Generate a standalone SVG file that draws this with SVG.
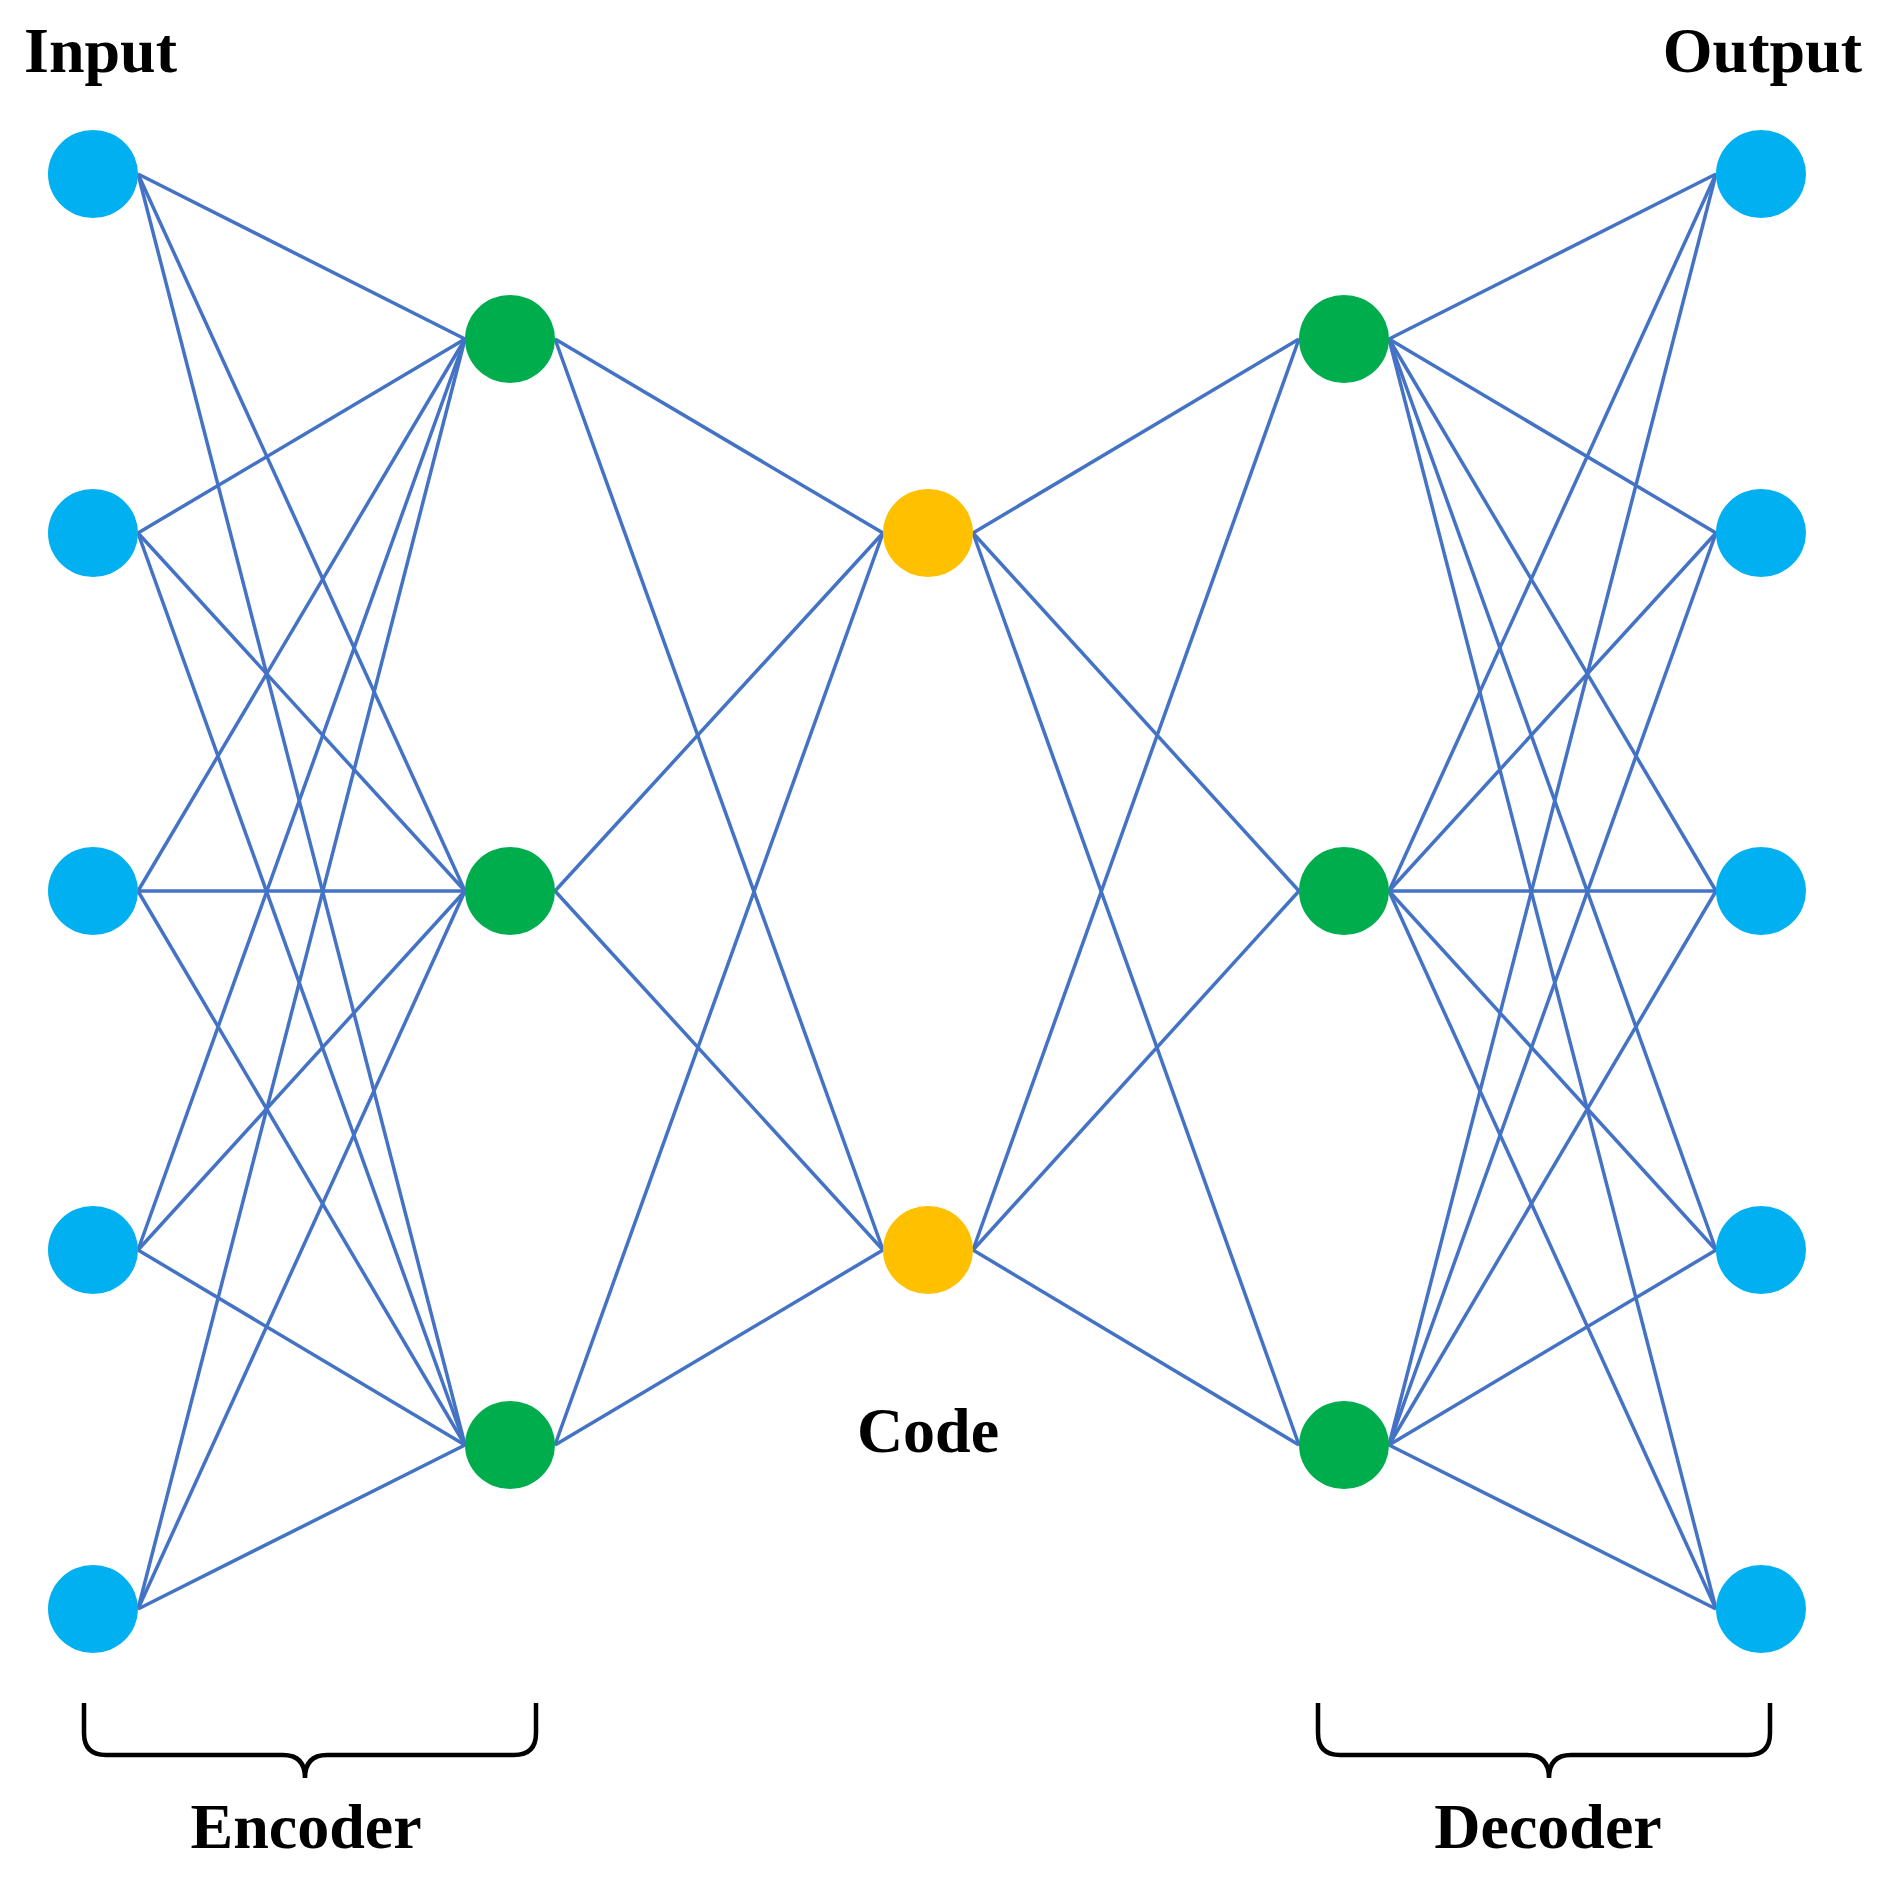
<svg xmlns="http://www.w3.org/2000/svg" width="1885" height="1882" viewBox="0 0 1885 1882">
<style>
.e{stroke:#4472C4;stroke-width:3.5;fill:none}
.in{fill:#00B0F0}.hid{fill:#00AD4D}.code{fill:#FFC000}
.t{font-family:"Liberation Serif",serif;font-weight:bold;font-size:64px;fill:#000}
.br{stroke:#000;stroke-width:4.5;fill:none}
</style>
<rect width="1885" height="1882" fill="#fff"/>
<g id="connectors" class="e">
<line x1="138" y1="174" x2="465" y2="339"/><line x1="138" y1="174" x2="465" y2="891"/><line x1="138" y1="174" x2="465" y2="1445"/>
<line x1="138" y1="533" x2="465" y2="339"/><line x1="138" y1="533" x2="465" y2="891"/><line x1="138" y1="533" x2="465" y2="1445"/>
<line x1="138" y1="891" x2="465" y2="339"/><line x1="138" y1="891" x2="465" y2="891"/><line x1="138" y1="891" x2="465" y2="1445"/>
<line x1="138" y1="1250" x2="465" y2="339"/><line x1="138" y1="1250" x2="465" y2="891"/><line x1="138" y1="1250" x2="465" y2="1445"/>
<line x1="138" y1="1609" x2="465" y2="339"/><line x1="138" y1="1609" x2="465" y2="891"/><line x1="138" y1="1609" x2="465" y2="1445"/>
<line x1="555" y1="339" x2="883" y2="533"/><line x1="555" y1="339" x2="883" y2="1250"/>
<line x1="555" y1="891" x2="883" y2="533"/><line x1="555" y1="891" x2="883" y2="1250"/>
<line x1="555" y1="1445" x2="883" y2="533"/><line x1="555" y1="1445" x2="883" y2="1250"/>
<line x1="973" y1="533" x2="1299" y2="339"/><line x1="973" y1="533" x2="1299" y2="891"/><line x1="973" y1="533" x2="1299" y2="1445"/>
<line x1="973" y1="1250" x2="1299" y2="339"/><line x1="973" y1="1250" x2="1299" y2="891"/><line x1="973" y1="1250" x2="1299" y2="1445"/>
<line x1="1389" y1="339" x2="1716" y2="174"/><line x1="1389" y1="339" x2="1716" y2="533"/><line x1="1389" y1="339" x2="1716" y2="891"/><line x1="1389" y1="339" x2="1716" y2="1250"/><line x1="1389" y1="339" x2="1716" y2="1609"/>
<line x1="1389" y1="891" x2="1716" y2="174"/><line x1="1389" y1="891" x2="1716" y2="533"/><line x1="1389" y1="891" x2="1716" y2="891"/><line x1="1389" y1="891" x2="1716" y2="1250"/><line x1="1389" y1="891" x2="1716" y2="1609"/>
<line x1="1389" y1="1445" x2="1716" y2="174"/><line x1="1389" y1="1445" x2="1716" y2="533"/><line x1="1389" y1="1445" x2="1716" y2="891"/><line x1="1389" y1="1445" x2="1716" y2="1250"/><line x1="1389" y1="1445" x2="1716" y2="1609"/>
</g>
<g id="input"><ellipse class="in" cx="93" cy="174" rx="45" ry="44"/><ellipse class="in" cx="93" cy="533" rx="45" ry="44"/><ellipse class="in" cx="93" cy="891" rx="45" ry="44"/><ellipse class="in" cx="93" cy="1250" rx="45" ry="44"/><ellipse class="in" cx="93" cy="1609" rx="45" ry="44"/></g>
<g id="encoder"><ellipse class="hid" cx="510" cy="339" rx="45" ry="44"/><ellipse class="hid" cx="510" cy="891" rx="45" ry="44"/><ellipse class="hid" cx="510" cy="1445" rx="45" ry="44"/></g>
<g id="code"><ellipse class="code" cx="928" cy="533" rx="45" ry="44"/><ellipse class="code" cx="928" cy="1250" rx="45" ry="44"/></g>
<g id="decoder"><ellipse class="hid" cx="1344" cy="339" rx="45" ry="44"/><ellipse class="hid" cx="1344" cy="891" rx="45" ry="44"/><ellipse class="hid" cx="1344" cy="1445" rx="45" ry="44"/></g>
<g id="output"><ellipse class="in" cx="1761" cy="174" rx="45" ry="44"/><ellipse class="in" cx="1761" cy="533" rx="45" ry="44"/><ellipse class="in" cx="1761" cy="891" rx="45" ry="44"/><ellipse class="in" cx="1761" cy="1250" rx="45" ry="44"/><ellipse class="in" cx="1761" cy="1609" rx="45" ry="44"/></g>
<g id="braces">
<path class="br" d="M84,1703 V1733 Q84,1755 106,1755 H283 Q305,1755 305,1778 Q305,1755 327,1755 H514 Q536,1755 536,1733 V1703"/>
<path class="br" d="M1318,1703 V1733 Q1318,1755 1340,1755 H1527 Q1549,1755 1549,1778 Q1549,1755 1571,1755 H1748 Q1770,1755 1770,1733 V1703"/>
</g>
<g id="labels">
<text class="t" x="24" y="72">Input</text>
<text class="t" x="1862" y="72" text-anchor="end">Output</text>
<text class="t" x="928" y="1452" text-anchor="middle">Code</text>
<text class="t" x="306" y="1848" text-anchor="middle">Encoder</text>
<text class="t" x="1548" y="1848" text-anchor="middle">Decoder</text>
</g>
</svg>
